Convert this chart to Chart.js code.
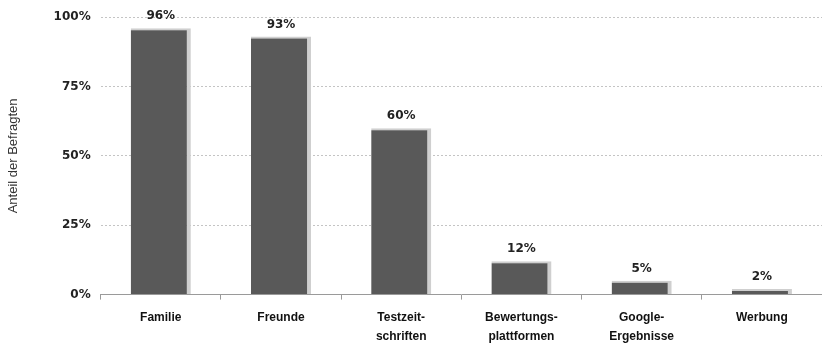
<!DOCTYPE html>
<html>
<head>
<meta charset="utf-8">
<script src="https://cdn.jsdelivr.net/npm/chart.js@4"></script>
<style>
    html, body { margin: 0; padding: 0; background: #fff; }
    #wrap { width: 822px; height: 345px; position: relative; }
</style>
</head>
<body>
<div id="wrap"><canvas id="chart"></canvas></div>
<script>
// Source data
const categories = [['Familie'], ['Freunde'], ['Testzeit-', 'schriften'], ['Bewertungs-', 'plattformen'], ['Google-', 'Ergebnisse'], ['Werbung']];
const shares = [96, 93, 60, 12, 5, 2];
const yTicks = [0, 25, 50, 75, 100];

// Draw value labels above bars
const valueLabels = {
    id: 'valueLabels',
    afterDatasetsDraw(chart) {
        const ctx = chart.ctx;
        const meta = chart.getDatasetMeta(0);
        ctx.save();
        ctx.font = 'bold 12px "DejaVu Sans"';
        ctx.fillStyle = '#222';
        ctx.textAlign = 'center';
        ctx.textBaseline = 'bottom';
        meta.data.forEach((bar, i) => {
            ctx.fillText(shares[i] + '%', bar.x, bar.y - 6);
        });
        ctx.restore();
    }
};

new Chart(document.getElementById('chart'), {
    type: 'bar',
    data: {
        labels: categories,
        datasets: [{
            data: shares,
            backgroundColor: '#595959',
            borderColor: '#cfcfcf',
            borderWidth: { top: 2, right: 4, left: 0, bottom: 0 },
            borderSkipped: 'bottom',
            barPercentage: 0.5,
            categoryPercentage: 1
        }]
    },
    options: {
        responsive: true,
        maintainAspectRatio: false,
        animation: false,
        layout: { padding: { top: 10, right: 0, left: 6, bottom: -9 } },
        plugins: {
            legend: { display: false },
            tooltip: { enabled: false }
        },
        scales: {
            y: {
                min: 0,
                max: 100,
                afterBuildTicks: axis => {
                    axis.ticks = yTicks.map(v => ({ value: v }));
                },
                ticks: {
                    color: '#222',
                    padding: 10,
                    font: { family: '"DejaVu Sans"', size: 12, weight: 'bold' },
                    callback: v => v + '%'
                },
                grid: {
                    color: ctx => ctx.tick.value === 0 ? 'rgba(0,0,0,0)' : '#c4c4c4',
                    lineWidth: 1,
                    drawTicks: false
                },
                border: { display: false, dash: [2, 2] },
                title: {
                    display: true,
                    text: 'Anteil der Befragten',
                    color: '#333',
                    font: { family: '"Liberation Sans"', size: 13 },
                    padding: { top: 0, bottom: 22 }
                }
            },
            x: {
                ticks: {
                    color: '#111',
                    padding: 8,
                    maxRotation: 0,
                    font: { family: '"Liberation Sans"', size: 12, weight: 'bold', lineHeight: 1.6 }
                },
                grid: {
                    offset: true,
                    drawOnChartArea: false,
                    drawTicks: true,
                    tickLength: 5,
                    color: '#9a9a9a'
                },
                border: { display: true, color: '#9a9a9a', width: 1 }
            }
        }
    },
    plugins: [valueLabels]
});
</script>
</body>
</html>
